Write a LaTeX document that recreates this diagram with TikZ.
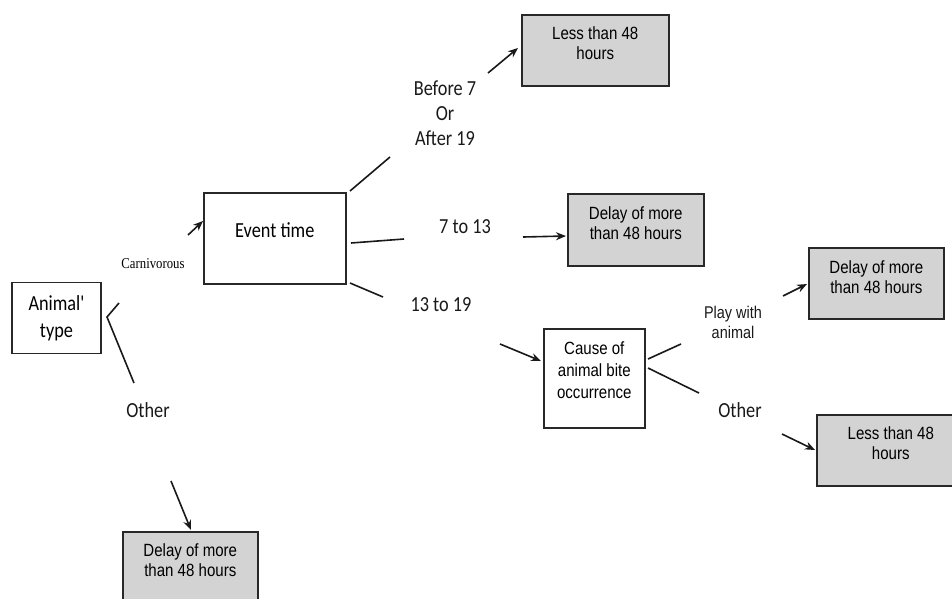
\documentclass[tikz,border=0pt]{standalone}
\usepackage{fontspec}
\usetikzlibrary{arrows.meta}
\newfontfamily\bxfont[FakeStretch=0.85]{Liberation Sans}
\newfontfamily\lbfont[FakeStretch=0.85]{Carlito}
\newfontfamily\smfont[FakeStretch=0.85]{Liberation Serif}
\newcommand{\bxt}[4]{\parbox[c][#1][t]{#2}{\centering\vspace*{#3}#4\par}}
\definecolor{boxgray}{RGB}{211,211,211}
\definecolor{edge}{RGB}{40,40,40}
\tikzset{
  wbox/.style={draw=edge, line width=1.6pt, fill=white, inner sep=0pt, anchor=north west},
  gbox/.style={draw=edge, line width=1.6pt, fill=boxgray, inner sep=0pt, anchor=north west,
    font=\bxfont\fontsize{17.7}{20}\selectfont},
  lab/.style={inner sep=0pt, font=\lbfont\fontsize{21.5}{25}\selectfont, text=black!90},
  lab2/.style={inner sep=0pt, font=\bxfont\fontsize{17}{20}\selectfont, text=black!90},
  seg/.style={line width=1.6pt, draw=black!90},
  arr/.style={line width=1.6pt, draw=black!90, -{Stealth[length=10pt,width=8pt]}}
}
\begin{document}
\begin{tikzpicture}[x=1pt,y=-1pt]
\useasboundingbox (0,0) rectangle (952,598);
\begin{scope}
\clip (0,0) rectangle (952,598);
% boxes
\node[wbox, anchor=center, minimum width=89pt, minimum height=71pt, align=center,
  font=\lbfont\fontsize{21.5}{27}\selectfont] (animal) at (56.5,318) {Animal'\\type};
\node[wbox, font=\lbfont\fontsize{21.5}{25}\selectfont] (event) at (203,192) {\bxt{91pt}{142pt}{30pt}{Event time}};
\node[gbox] (less1) at (521,14) {\bxt{71pt}{147pt}{12pt}{Less than 48\\hours}};
\node[gbox] (delay1) at (567,193) {\bxt{72pt}{136pt}{13pt}{Delay of more\\than 48 hours}};
\node[gbox] (delay2) at (808,247) {\bxt{71pt}{135pt}{13pt}{Delay of more\\than 48 hours}};
\node[wbox, font=\bxfont\fontsize{17.7}{22}\selectfont] (cause) at (543,328) {\bxt{99pt}{101pt}{13pt}{Cause of\\animal bite\\occurrence}};
\node[gbox] (less2) at (816,414) {\bxt{71pt}{148pt}{12pt}{Less than 48\\hours}};
\node[gbox] (delay3) at (122,531) {\bxt{72pt}{135pt}{12pt}{Delay of more\\than 48 hours}};
\end{scope}
% labels
\node[inner sep=0pt, font=\smfont\fontsize{15}{18}\selectfont] (carn) at (153,264) {Carnivorous};
\node[lab] (oth1) at (148,410) {Other};
\node[lab, align=center] (t1) at (445,113) {Before 7\\Or\\After 19};
\node[lab] (t2) at (465,227) {7 to 13};
\node[lab] (t3) at (441,305) {13 to 19};
\node[lab2, align=center] (play) at (733,322) {Play with\\animal};
\node[lab] (oth2) at (740,410) {Other};
% connector end points
\coordinate (ca) at (188,235); \coordinate (cb) at (203,221);
\coordinate (ab1) at (119,303); \coordinate (ab2) at (107,317); \coordinate (ab3) at (134,383);
\coordinate (oa) at (171,481); \coordinate (ob) at (191,530);
\coordinate (e1a) at (350,191); \coordinate (e1b) at (390,157);
\coordinate (e2a) at (351,243); \coordinate (e2b) at (404,239);
\coordinate (e3a) at (350,283); \coordinate (e3b) at (383,297);
\coordinate (l1a) at (488,73); \coordinate (l1b) at (518,48);
\coordinate (d1a) at (523,237); \coordinate (d1b) at (566,236);
\coordinate (ka) at (500,344); \coordinate (kb) at (541,361);
\coordinate (p1a) at (648,359); \coordinate (p1b) at (681,344);
\coordinate (p2a) at (648,368); \coordinate (p2b) at (699,393);
\coordinate (d2a) at (783,296); \coordinate (d2b) at (807,284);
\coordinate (l2a) at (782,434); \coordinate (l2b) at (815,450);
% connectors
\draw[arr] (ca) -- (cb);
\draw[seg] (ab1) -- (ab2) -- (ab3);
\draw[arr] (oa) -- (ob);
\draw[seg] (e1a) -- (e1b);
\draw[seg] (e2a) -- (e2b);
\draw[seg] (e3a) -- (e3b);
\draw[arr] (l1a) -- (l1b);
\draw[arr] (d1a) -- (d1b);
\draw[arr] (ka) -- (kb);
\draw[seg] (p1a) -- (p1b);
\draw[seg] (p2a) -- (p2b);
\draw[arr] (d2a) -- (d2b);
\draw[arr] (l2a) -- (l2b);
\end{tikzpicture}
\end{document}
